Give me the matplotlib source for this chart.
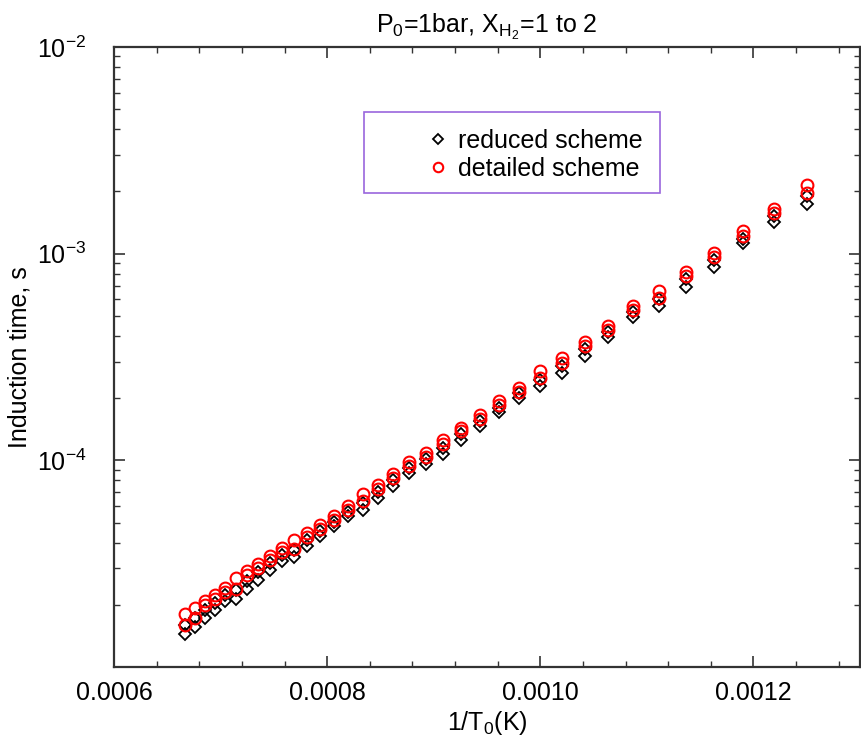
import matplotlib
matplotlib.use("Agg")
import matplotlib.pyplot as plt
from matplotlib.patches import Rectangle
from matplotlib.ticker import MultipleLocator, FixedLocator, FixedFormatter, LogLocator, NullFormatter

plt.rcParams['font.family'] = ['Liberation Sans', 'DejaVu Sans']
plt.rcParams['mathtext.fontset'] = 'custom'
plt.rcParams['mathtext.rm'] = 'Liberation Sans'
plt.rcParams['mathtext.it'] = 'Liberation Sans:italic'

# initial temperature, K (x axis is 1/T0)
temps = [800, 820, 840, 860, 880, 900, 920, 940, 960, 980,
         1000, 1020, 1040, 1060, 1080, 1100, 1120, 1140, 1160, 1180,
         1200, 1220, 1240, 1260, 1280, 1300, 1320, 1340, 1360, 1380,
         1400, 1420, 1440, 1460, 1480, 1500]

# induction times, s
detailed_a = [2.15e-3, 1.65e-3, 1.28e-3, 1.01e-3, 8.18e-4, 6.60e-4, 5.55e-4, 4.49e-4, 3.72e-4, 3.11e-4,
              2.69e-4, 2.25e-4, 1.93e-4, 1.65e-4, 1.44e-4, 1.26e-4, 1.09e-4, 9.78e-5, 8.56e-5, 7.57e-5,
              6.85e-5, 6.00e-5, 5.36e-5, 4.85e-5, 4.44e-5, 4.11e-5, 3.76e-5, 3.44e-5, 3.15e-5, 2.91e-5,
              2.69e-5, 2.41e-5, 2.23e-5, 2.08e-5, 1.93e-5, 1.80e-5]
detailed_b = [1.97e-3, 1.58e-3, 1.22e-3, 9.67e-4, 7.82e-4, 6.13e-4, 5.31e-4, 4.29e-4, 3.56e-4, 2.97e-4,
              2.50e-4, 2.15e-4, 1.85e-4, 1.58e-4, 1.38e-4, 1.20e-4, 1.04e-4, 9.35e-5, 8.18e-5, 7.24e-5,
              6.34e-5, 5.74e-5, 5.12e-5, 4.64e-5, 4.24e-5, 3.72e-5, 3.59e-5, 3.29e-5, 3.01e-5, 2.78e-5,
              2.38e-5, 2.30e-5, 2.13e-5, 1.99e-5, 1.73e-5, 1.60e-5]
reduced_a = [1.90e-3, 1.52e-3, 1.18e-3, 9.30e-4, 7.50e-4, 6.00e-4, 5.20e-4, 4.20e-4, 3.45e-4, 2.86e-4,
             2.45e-4, 2.12e-4, 1.80e-4, 1.55e-4, 1.34e-4, 1.15e-4, 1.02e-4, 9.20e-5, 8.00e-5, 7.00e-5,
             6.20e-5, 5.65e-5, 5.05e-5, 4.55e-5, 4.10e-5, 3.70e-5, 3.48e-5, 3.17e-5, 2.87e-5, 2.62e-5,
             2.35e-5, 2.24e-5, 2.04e-5, 1.89e-5, 1.73e-5, 1.60e-5]
reduced_b = [1.74e-3, 1.43e-3, 1.12e-3, 8.65e-4, 6.93e-4, 5.55e-4, 4.91e-4, 3.97e-4, 3.21e-4, 2.66e-4,
             2.30e-4, 2.01e-4, 1.71e-4, 1.46e-4, 1.25e-4, 1.07e-4, 9.57e-5, 8.66e-5, 7.49e-5, 6.55e-5,
             5.74e-5, 5.36e-5, 4.80e-5, 4.30e-5, 3.84e-5, 3.40e-5, 3.25e-5, 2.94e-5, 2.63e-5, 2.38e-5,
             2.13e-5, 2.08e-5, 1.88e-5, 1.73e-5, 1.56e-5, 1.44e-5]

inv_t = [1.0 / t for t in temps]

fig = plt.figure(figsize=(8.61, 7.42), dpi=100)
ax = fig.add_axes([0.1324, 0.1011, 0.8665, 0.8356])

ax.plot(inv_t, reduced_a, ls='none', marker='D', ms=6.5, mfc='none', mec='black', mew=1.3,
        label='reduced scheme')
ax.plot(inv_t, reduced_b, ls='none', marker='D', ms=6.5, mfc='none', mec='black', mew=1.3)
ax.plot(inv_t, detailed_b, ls='none', marker='o', ms=8.5, mfc='none', mec='red', mew=1.5)
ax.plot(inv_t, detailed_a, ls='none', marker='o', ms=8.5, mfc='none', mec='red', mew=1.5,
        label='detailed scheme')

ax.set_yscale('log')
ax.set_xlim(0.0006, 0.0013)
ax.set_ylim(1e-5, 1e-2)

ax.xaxis.set_major_locator(FixedLocator([0.0006, 0.0008, 0.0010, 0.0012]))
ax.xaxis.set_major_formatter(FixedFormatter(['0.0006', '0.0008', '0.0010', '0.0012']))
ax.xaxis.set_minor_locator(MultipleLocator(0.00004))
ax.yaxis.set_major_locator(FixedLocator([1e-5, 1e-4, 1e-3, 1e-2]))
ax.yaxis.set_major_formatter(FixedFormatter(['', r'$10^{-4}$', r'$10^{-3}$', r'$10^{-2}$']))
ax.yaxis.set_minor_locator(LogLocator(base=10, subs=range(2, 10)))
ax.yaxis.set_minor_formatter(NullFormatter())

ax.tick_params(which='both', direction='in', top=True, right=True, colors='#333333',
               labelcolor='black', labelsize=18)
ax.tick_params(which='major', length=8, width=1.2)
ax.tick_params(which='minor', length=4.5, width=1.0)
ax.tick_params(axis='x', which='major', pad=10)
ax.tick_params(axis='y', which='major', pad=20)
for s in ax.spines.values():
    s.set_linewidth(1.6)
    s.set_color('#333333')

ax.set_xlabel(r'1/T$_0$(K)', fontsize=18, labelpad=3)
ax.set_ylabel('Induction time, s', fontsize=18, labelpad=4)
ax.set_title(r'P$_0$=1bar, X$_{\mathrm{H_2}}$=1 to 2', fontsize=18, pad=10)

ax.add_patch(Rectangle((0.335, 0.7645), 0.397, 0.1305, transform=ax.transAxes,
                       fill=False, edgecolor='#9966dd', linewidth=1.2, zorder=5))
ax.legend(loc='upper right', bbox_to_anchor=(0.735, 0.9), frameon=False, fontsize=18,
          handlelength=0.8, handletextpad=0.4, labelspacing=0.15, borderpad=0.3, markerscale=0.8)

fig.savefig('out.png', dpi=100)
